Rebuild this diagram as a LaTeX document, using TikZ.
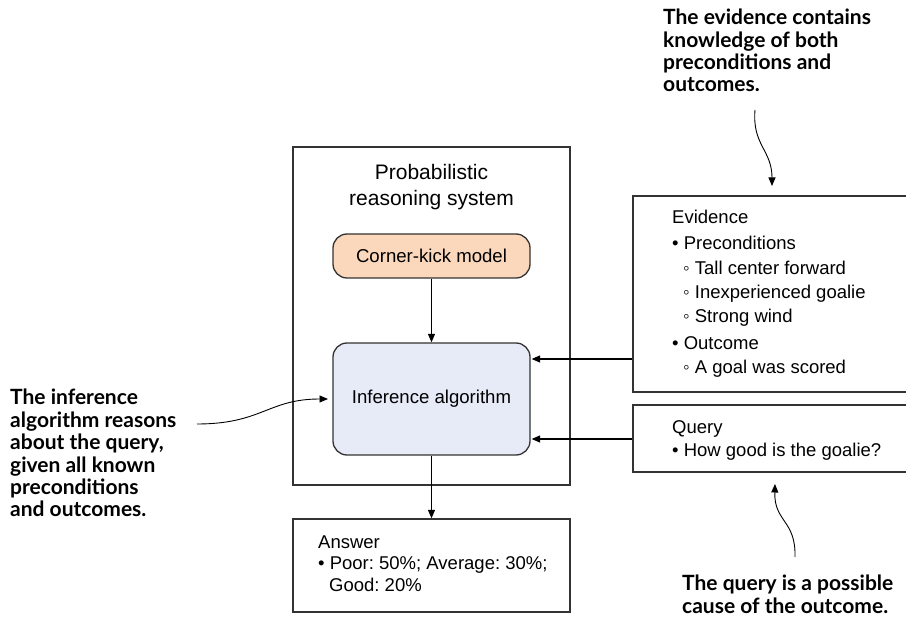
\documentclass[tikz,border=0pt]{standalone}
\usepackage{fontspec}
\setmainfont{Liberation Sans}
\newfontfamily\notefont{Lato}
\usetikzlibrary{arrows.meta}
\frenchspacing
\definecolor{boxline}{HTML}{333333}
\definecolor{peach}{HTML}{FBD8BB}
\definecolor{paleblue}{HTML}{E7EBF7}
\tikzset{
  box/.style={draw=boxline, line width=1.3pt, inner sep=0pt},
  rbox/.style={box, rounded corners=14pt},
  txt/.style={font=\fontsize{18.5}{22}\selectfont, inner sep=0pt, anchor=base west},
  ttl/.style={font=\fontsize{21}{26}\selectfont, inner sep=0pt, anchor=base},
  note/.style={font=\notefont\bfseries\fontsize{21}{22.4}\selectfont, inner sep=0pt, anchor=north west, align=left},
  arr/.style={-{Triangle[length=8.5pt,width=7pt]}, line width=1.1pt, draw=black},
  carr/.style={-{Triangle[length=8.5pt,width=7pt]}, line width=0.9pt, draw=black}
}
\begin{document}
\begin{tikzpicture}[x=1pt,y=-1pt]
\clip (0,0) rectangle (906,617);
% main system box
\node[box, minimum width=277pt, minimum height=338pt] (sys) at (431.5,316) {};
\node[ttl] (t1) at (431.5,179.5) {Probabilistic};
\node[ttl] (t2) at (431.5,205.5) {reasoning system};
\node[rbox, fill=peach, minimum width=197pt, minimum height=44pt, font=\fontsize{18.6}{22}\selectfont] (ckm) at (431.5,256) {Corner-kick model};
\node[rbox, fill=paleblue, minimum width=197pt, minimum height=112pt, font=\fontsize{18.6}{22}\selectfont] (inf) at (431.5,399) {Inference algorithm};
% answer
\node[box, minimum width=277pt, minimum height=93pt] (ans) at (431.5,565.5) {};
\node[txt] (a1) at (318,548.5) {Answer};
\node[txt] (a2) at (318,570) {• Poor: 50\%; Average: 30\%;};
\node[txt] (a3) at (329,591.5) {Good: 20\%};
% evidence
\node[box, minimum width=279pt, minimum height=196pt] (evid) at (772.5,294) {};
\node[txt] (e1) at (672,223.5) {Evidence};
\node[txt] (e2) at (672,249.5) {• Preconditions};
\node[txt] (e3) at (683,274.5) {◦ Tall center forward};
\node[txt] (e4) at (683,298.5) {◦ Inexperienced goalie};
\node[txt] (e5) at (683,322.5) {◦ Strong wind};
\node[txt] (e6) at (672,349.5) {• Outcome};
\node[txt] (e7) at (683,373.5) {◦ A goal was scored};
% query
\node[box, minimum width=279pt, minimum height=67pt] (qry) at (772.5,438.5) {};
\node[txt] (q1) at (672,434) {Query};
\node[txt] (q2) at (672,457) {• How good is the goalie?};
% connectors
\coordinate (ey) at (0,359);
\coordinate (qy) at (0,439);
\draw[arr] (ckm.south) -- (inf.north);
\draw[arr] (inf.south) -- (ans.north);
\draw[arr] (evid.west |- ey) -- ([xshift=1pt]inf.east |- ey);
\draw[arr] (qry.west |- qy) -- ([xshift=1pt]inf.east |- qy);
% notes
\node[note] (ntop) at (663,9) {The evidence contains\\knowledge of both\\preconditions and\\outcomes.};
\node[note] (nleft) at (10,389) {The inference\\algorithm reasons\\about the query,\\given all known\\preconditions\\and outcomes.};
\node[note] (nbot) at (682,575) {The query is a possible\\cause of the outcome.};
\coordinate (ntopS) at (755,110);
\coordinate (ntopE) at (772,186);
\coordinate (nleftS) at (197,424);
\coordinate (nleftE) at (328,399);
\coordinate (nbotS) at (795,557);
\coordinate (nbotE) at (775,484);
\draw[carr] (ntopS) .. controls (752,145) and (772,150) .. (ntopE);
\draw[carr] (nleftS) .. controls (262,424) and (268,399) .. (nleftE);
\draw[carr] (nbotS) .. controls (796,520) and (774,522) .. (nbotE);
\end{tikzpicture}
\end{document}
